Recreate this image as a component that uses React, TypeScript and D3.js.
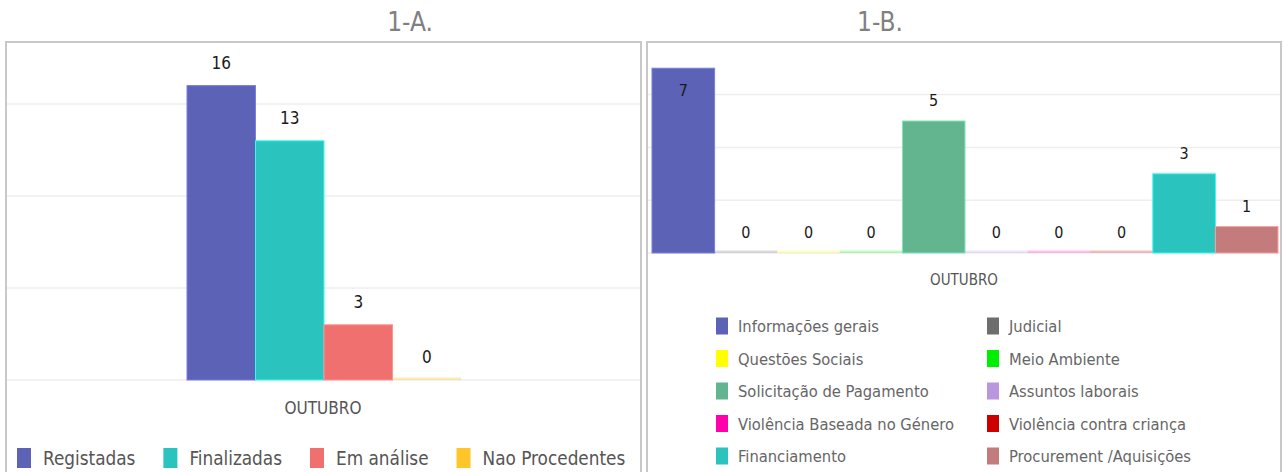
import React, { useEffect, useRef } from "react";
import * as d3 from "d3";

const seriesA = ["Registadas", "Finalizadas", "Em análise", "Nao Procedentes"];
const valuesA = [16, 13, 3, 0];
const colorsA = ["#5c62b5", "#2ac3bd", "#f07070", "#ffc629"];

const seriesB = [
  "Informações gerais",
  "Judicial",
  "Questões Sociais",
  "Meio Ambiente",
  "Solicitação de Pagamento",
  "Assuntos laborais",
  "Violência Baseada no Género",
  "Violência contra criança",
  "Financiamento",
  "Procurement /Aquisições",
];
const valuesB = [7, 0, 0, 0, 5, 0, 0, 0, 3, 1];
const colorsB = [
  "#5c62b5",
  "#6e6e6e",
  "#ffff00",
  "#00ee00",
  "#63b58f",
  "#b996dd",
  "#ff00aa",
  "#cc0000",
  "#2ac3bd",
  "#c47b7b",
];

const category = "OUTUBRO";
const titleA = "1-A.";
const titleB = "1-B.";
const ticksA = [0, 5, 10, 15];
const ticksB = [0, 2, 4, 6];

const FONT = "'Liberation Sans Narrow','DejaVu Sans Condensed','Roboto Condensed',sans-serif";

export default function App() {
  const ref = useRef<SVGSVGElement | null>(null);

  useEffect(() => {
    const svg = d3.select(ref.current);
    svg.selectAll("*").remove();
    svg.attr("font-family", FONT);

    // ---------- Panel A ----------
    const gA = svg.append("g");
    gA.append("rect")
      .attr("x", 6).attr("y", 42).attr("width", 635).attr("height", 450)
      .attr("fill", "#fff").attr("stroke", "#c8c8c8").attr("stroke-width", 2);
    svg.append("text").text(titleA)
      .attr("x", 410).attr("y", 31).attr("text-anchor", "middle")
      .attr("font-size", 26).attr("fill", "#808080");

    const yA = d3.scaleLinear().domain([0, 20]).range([380, 380 - 20 * 18.4]);
    const xA = d3.scaleBand<string>().domain(seriesA).range([187, 461]).padding(0);

    gA.selectAll("line.grid").data(ticksA).enter().append("line")
      .attr("x1", 7).attr("x2", 640)
      .attr("y1", (d) => yA(d)).attr("y2", (d) => yA(d))
      .attr("stroke", "#eeeeee").attr("stroke-width", 1.5);

    seriesA.forEach((s, i) => {
      const v = valuesA[i];
      const c = colorsA[i];
      if (v > 0) {
        gA.append("rect")
          .attr("x", xA(s)!).attr("width", xA.bandwidth())
          .attr("y", yA(v)).attr("height", yA(0) - yA(v))
          .attr("fill", c)
          .attr("stroke", d3.color(c)!.brighter(0.7).toString()).attr("stroke-width", 1);
      } else {
        gA.append("rect")
          .attr("x", xA(s)!).attr("width", xA.bandwidth())
          .attr("y", yA(0) - 2.5).attr("height", 2.5)
          .attr("fill", c).attr("fill-opacity", 0.35);
      }
      gA.append("text").text(String(v))
        .attr("x", xA(s)! + xA.bandwidth() / 2).attr("y", yA(v) - 17)
        .attr("text-anchor", "middle").attr("font-size", 17).attr("fill", "#1a1a1a");
    });

    gA.append("text").text(category)
      .attr("x", 323).attr("y", 414).attr("text-anchor", "middle")
      .attr("font-size", 17).attr("fill", "#555");

    // legend A
    let lx = 17;
    seriesA.forEach((s, i) => {
      gA.append("rect").attr("x", lx).attr("y", 448).attr("width", 14).attr("height", 20)
        .attr("fill", colorsA[i]);
      const t = gA.append("text").text(s)
        .attr("x", lx + 26).attr("y", 465)
        .attr("font-size", 18.8).attr("fill", "#555");
      const w = (t.node() as SVGTextElement).getComputedTextLength();
      lx = lx + 26 + w + 28;
    });

    // ---------- Panel B ----------
    const gB = svg.append("g");
    gB.append("rect")
      .attr("x", 647).attr("y", 42).attr("width", 634).attr("height", 450)
      .attr("fill", "#fff").attr("stroke", "#c8c8c8").attr("stroke-width", 2);
    svg.append("text").text(titleB)
      .attr("x", 880).attr("y", 31).attr("text-anchor", "middle")
      .attr("font-size", 26).attr("fill", "#808080");

    const yB = d3.scaleLinear().domain([0, 8]).range([253, 253 - 8 * 26.4]);
    const xB = d3.scaleBand<string>().domain(seriesB).range([652, 1278]).padding(0);

    gB.selectAll("line.grid").data(ticksB).enter().append("line")
      .attr("x1", 648).attr("x2", 1280)
      .attr("y1", (d) => yB(d)).attr("y2", (d) => yB(d))
      .attr("stroke", "#eeeeee").attr("stroke-width", 1.5);

    seriesB.forEach((s, i) => {
      const v = valuesB[i];
      const c = colorsB[i];
      if (v > 0) {
        gB.append("rect")
          .attr("x", xB(s)!).attr("width", xB.bandwidth())
          .attr("y", yB(v)).attr("height", yB(0) - yB(v))
          .attr("fill", c)
          .attr("stroke", d3.color(c)!.brighter(0.7).toString()).attr("stroke-width", 1);
      } else {
        gB.append("rect")
          .attr("x", xB(s)!).attr("width", xB.bandwidth())
          .attr("y", yB(0) - 2.5).attr("height", 2.5)
          .attr("fill", c).attr("fill-opacity", 0.25);
      }
      const above = yB(v) - 15;
      const inside = above - 14 < 42;
      gB.append("text").text(String(v))
        .attr("x", xB(s)! + xB.bandwidth() / 2)
        .attr("y", inside ? yB(v) + 28 : above)
        .attr("text-anchor", "middle").attr("font-size", 16).attr("fill", "#1a1a1a");
    });

    gB.append("text").text(category)
      .attr("x", 964).attr("y", 285).attr("text-anchor", "middle")
      .attr("font-size", 15).attr("fill", "#555");

    // legend B (two columns)
    const colX = [716, 987];
    seriesB.forEach((s, i) => {
      const col = i % 2;
      const row = Math.floor(i / 2);
      const cy = 326 + row * 32.5;
      gB.append("rect").attr("x", colX[col]).attr("y", cy - 8.5).attr("width", 12).attr("height", 17)
        .attr("fill", colorsB[i]);
      gB.append("text").text(s)
        .attr("x", colX[col] + 22).attr("y", cy + 6)
        .attr("font-size", 16.4).attr("fill", "#666");
    });
  }, []);

  return (
    <svg
      ref={ref}
      width={1283}
      height={472}
      style={{ position: "absolute", left: 0, top: 0, background: "#fff" }}
    />
  );
}
